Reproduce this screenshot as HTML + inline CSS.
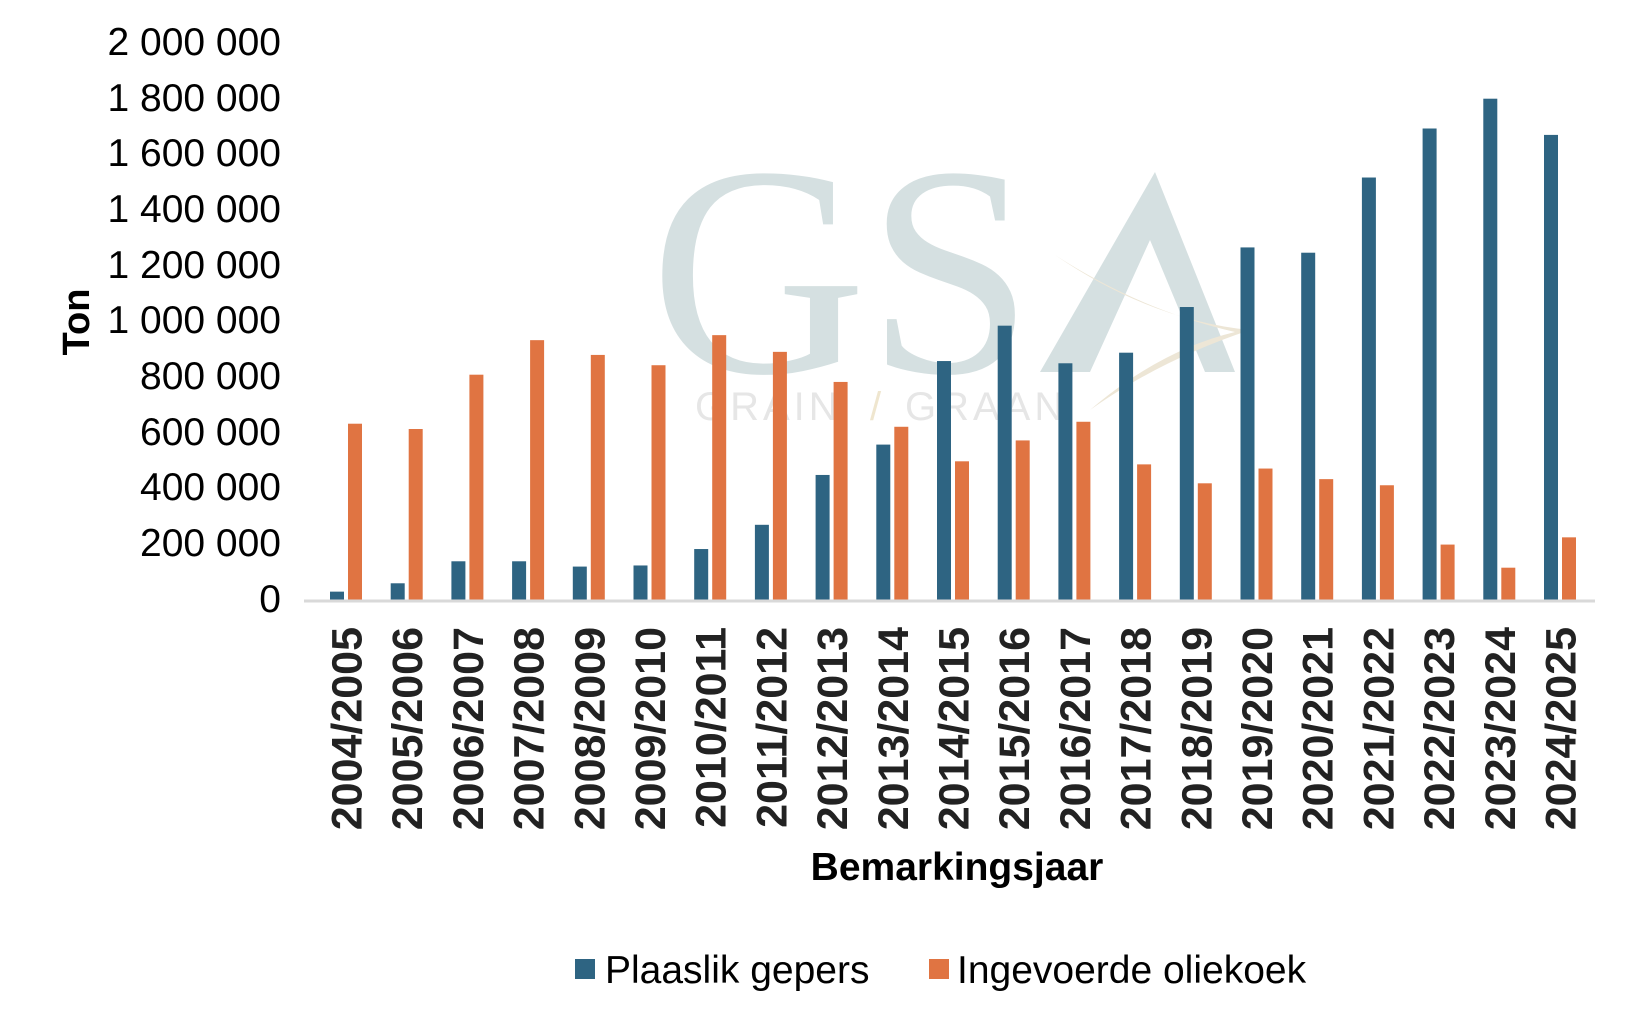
<!DOCTYPE html>
<html><head><meta charset="utf-8"><style>
html,body{margin:0;padding:0;background:#fff;}
svg{display:block;}
</style></head><body>
<svg width="1635" height="1016" viewBox="0 0 1635 1016" xmlns="http://www.w3.org/2000/svg" font-family="Liberation Sans, Arial, sans-serif">
<rect width="1635" height="1016" fill="#fff"/>
<g>
<text x="650" y="372" font-family="Liberation Serif, serif" font-size="300" fill="#d5e0e1">GS</text>
<path d="M1040 372 L1155 172 L1235 372 L1205 372 L1150 240 L1090 372 Z" fill="#d5e0e1"/>
<path d="M1055 255 Q1150 320 1250 330 Q1160 360 1090 410 Q1160 350 1235 332 Q1140 310 1055 255 Z" fill="#ede6d6"/>
<text x="695" y="420" font-size="40" fill="#e6e6e6" letter-spacing="4">GRAIN</text>
<text x="870" y="420" font-size="40" fill="#efe6cf">/</text>
<text x="905" y="420" font-size="40" fill="#e6e6e6" letter-spacing="4">GRAAN</text>
</g>
<g font-size="39" fill="#000" text-anchor="end">
<text x="281" y="55">2 000 000</text>
<text x="281" y="111">1 800 000</text>
<text x="281" y="166">1 600 000</text>
<text x="281" y="222">1 400 000</text>
<text x="281" y="278">1 200 000</text>
<text x="281" y="333">1 000 000</text>
<text x="281" y="389">800 000</text>
<text x="281" y="445">600 000</text>
<text x="281" y="500">400 000</text>
<text x="281" y="556">200 000</text>
<text x="281" y="612">0</text>
</g>
<text transform="translate(89,322) rotate(-90)" text-anchor="middle" font-size="38" font-weight="bold">Ton</text>
<g id="bars"></g>
<line x1="304" y1="601" x2="1595" y2="601" stroke="#d9d9d9" stroke-width="3"/>
<g id="xl" font-size="43" font-weight="bold" fill="#222" text-anchor="end"></g>
<text x="957" y="880" text-anchor="middle" font-size="39" font-weight="bold">Bemarkingsjaar</text>
<rect x="575" y="959" width="20" height="20" fill="#2e6482"/>
<text x="605" y="983" font-size="39">Plaaslik gepers</text>
<rect x="929" y="959" width="20" height="20" fill="#e07442"/>
<text x="957" y="983" font-size="39">Ingevoerde oliekoek</text>
</svg>
<script>
var blue=[0.03,0.06,0.139,0.139,0.12,0.124,0.183,0.27,0.449,0.558,0.858,0.985,0.85,0.888,1.052,1.266,1.247,1.517,1.693,1.80,1.67];
var orange=[0.633,0.614,0.809,0.933,0.880,0.843,0.951,0.891,0.783,0.622,0.498,0.573,0.64,0.487,0.419,0.472,0.434,0.412,0.199,0.116,0.225];
var ns="http://www.w3.org/2000/svg";
var g=document.getElementById("bars"),xl=document.getElementById("xl");
for(var i=0;i<21;i++){
 var bx=330+60.7*i;
 [[bx,blue[i],"#2e6482"],[bx+18,orange[i],"#e07442"]].forEach(function(a){
  var r=document.createElementNS(ns,"rect");var h=a[1]*278.5;
  r.setAttribute("x",a[0]);r.setAttribute("y",600-h);r.setAttribute("width",14);r.setAttribute("height",h);r.setAttribute("fill",a[2]);g.appendChild(r);});
 var t=document.createElementNS(ns,"text");
 var cx=bx+16+15.5;
 t.setAttribute("transform","translate("+cx+",627) rotate(-90)");
 t.textContent=(2004+i)+"/"+(2005+i);xl.appendChild(t);
}
</script>
</body></html>
